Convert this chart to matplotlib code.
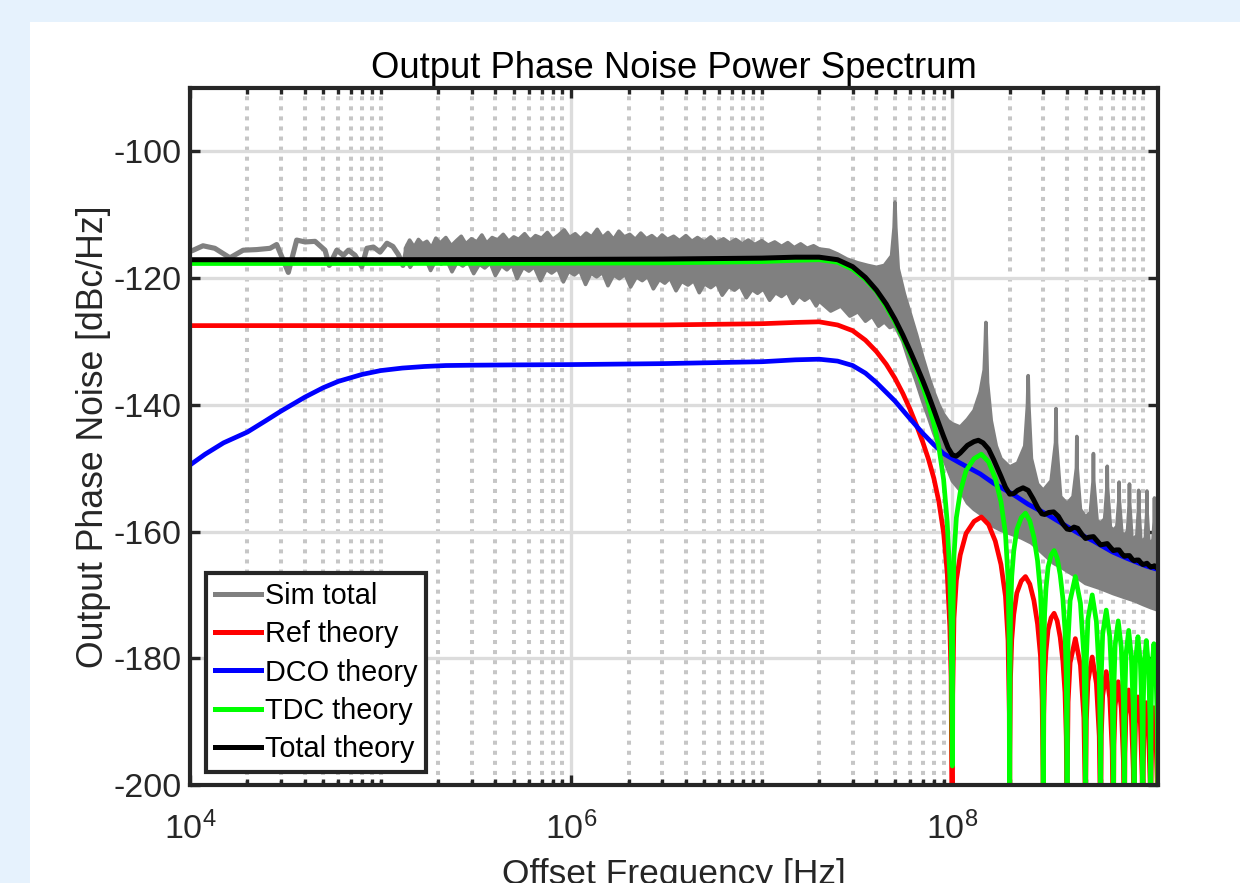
import numpy as np
import matplotlib
matplotlib.use('Agg')
import matplotlib.pyplot as plt
from matplotlib.patches import Rectangle
from matplotlib.ticker import FixedLocator, LogFormatterSciNotation, NullFormatter

plt.rcParams['font.family'] = ['Liberation Sans', 'DejaVu Sans']
plt.rcParams['axes.unicode_minus'] = False

# ---------------- data ----------------
# simulated total, sparse low-frequency part (drawn as a line)
sim_line_f = [1.0e4, 1.04e4, 1.17e4, 1.35e4, 1.62e4, 1.9e4, 2.24e4, 2.63e4, 2.85e4, 3.28e4,
              3.63e4, 4.02e4, 4.53e4, 5.11e4, 5.38e4, 5.89e4, 6.38e4, 6.78e4, 7.35e4, 7.97e4,
              8.47e4, 9.17e4, 9.94e4, 1.08e5, 1.16e5, 1.24e5, 1.31e5, 1.39e5]
sim_line_db = [-115.8, -115.6, -114.9, -115.3, -116.8, -115.6, -115.5, -115.3, -114.7, -119.1,
               -114.0, -114.3, -114.2, -115.6, -118.0, -115.6, -116.4, -115.6, -116.4, -118.2,
               -115.3, -115.1, -115.9, -114.5, -115.0, -116.3, -118.0, -115.0]

# simulated total, dense part: upper envelope
sim_hi_f = [1.35e5, 1.42e5, 1.5e5, 1.58e5, 1.66e5, 1.75e5, 1.85e5, 1.95e5, 2.05e5, 2.2e5,
            2.35e5, 2.5e5, 2.65e5, 2.8e5, 3.0e5, 3.2e5, 3.4e5, 3.6e5, 3.85e5, 4.1e5,
            4.4e5, 4.7e5, 5.0e5, 5.3e5, 5.7e5, 6.1e5, 6.5e5, 7.0e5, 7.5e5, 8.0e5,
            8.6e5, 9.2e5, 9.8e5, 1.05e6, 1.12e6, 1.2e6, 1.28e6, 1.37e6, 1.46e6, 1.56e6,
            1.67e6, 1.78e6, 1.9e6, 2.03e6, 2.17e6, 2.32e6, 2.48e6, 2.65e6, 2.83e6, 3.0e6,
            3.2e6, 3.45e6, 3.7e6, 4.0e6, 4.3e6, 4.6e6, 5.0e6, 5.4e6, 5.8e6, 6.3e6,
            6.8e6, 7.3e6, 7.9e6, 8.5e6, 9.2e6, 1.0e7, 1.08e7, 1.17e7, 1.27e7, 1.37e7,
            1.48e7, 1.6e7, 1.73e7, 1.87e7, 2.0e7, 2.25e7, 2.5e7, 2.8e7, 3.2e7, 3.6e7,
            4e7, 4.4e7, 4.8e7, 4.95e7, 5.0e7, 5.05e7, 5.2e7, 5.6e7, 6e7, 6.5e7,
            7e7, 7.5e7, 8e7, 8.5e7, 9e7, 9.5e7, 1e8, 1.1e8, 1.2e8, 1.3e8,
            1.4e8, 1.47e8, 1.49e8, 1.5e8, 1.51e8, 1.53e8, 1.6e8, 1.7e8, 1.8e8, 2e8,
            2.2e8, 2.4e8, 2.48e8, 2.5e8, 2.52e8, 2.6e8, 2.8e8, 3e8, 3.3e8, 3.48e8,
            3.5e8, 3.52e8, 3.7e8, 4e8, 4.3e8, 4.48e8, 4.5e8, 4.52e8, 4.7e8, 5e8,
            5.3e8, 5.48e8, 5.5e8, 5.52e8, 5.75e8, 6e8, 6.3e8, 6.48e8, 6.5e8, 6.52e8,
            6.75e8, 7e8, 7.3e8, 7.48e8, 7.5e8, 7.52e8, 7.75e8, 8e8, 8.3e8, 8.48e8,
            8.5e8, 8.52e8, 8.75e8, 9e8, 9.3e8, 9.48e8, 9.5e8, 9.52e8, 9.75e8, 1e9,
            1.03e9, 1.048e9, 1.05e9, 1.052e9, 1.075e9, 1.1e9, 1.13e9, 1.148e9, 1.15e9, 1.152e9,
            1.175e9, 1.2e9]
sim_hi_db = [-115.3, -114.0, -115.1, -113.9, -114.6, -114.2, -115.2, -113.7, -114.5, -113.6,
             -114.9, -114.1, -113.4, -114.6, -113.8, -114.3, -113.2, -114.5, -113.6, -114.0,
             -113.1, -114.2, -113.5, -113.9, -113.0, -114.1, -113.3, -113.7, -112.8, -113.9,
             -113.2, -112.4, -113.6, -113.0, -113.8, -112.9, -113.5, -112.3, -113.6, -112.8,
             -113.9, -112.6, -113.5, -113.1, -113.9, -112.9, -113.8, -113.3, -114.0, -113.2,
             -113.9, -113.4, -114.1, -113.3, -114.2, -113.6, -114.3, -113.5, -114.4, -113.8,
             -114.5, -113.9, -114.6, -114.0, -114.7, -114.1, -114.8, -114.3, -115.0, -114.4,
             -115.2, -114.6, -115.3, -114.9, -115.4, -115.6, -116.2, -117.0, -117.6, -118.0,
             -118.3, -118.0, -116.5, -112.0, -108.0, -112.0, -118.5, -122.5, -125.5, -129.0,
             -132.5, -135.5, -138.0, -140.0, -141.5, -142.5, -143.0, -143.5, -142.3, -140.9,
             -138.0, -134.5, -130.0, -127.0, -130.0, -136.5, -142.5, -146.5, -148.5, -149.8,
             -149.2, -146.5, -140.0, -135.4, -140.0, -148.5, -152.5, -153.5, -152.0, -146.0,
             -140.6, -146.0, -154.5, -155.6, -154.5, -150.0, -145.0, -150.0, -156.5, -157.7,
             -157.0, -152.0, -147.7, -152.0, -158.3, -158.7, -158.0, -153.0, -149.7, -153.0,
             -159.3, -159.8, -159.2, -155.0, -152.2, -155.0, -160.2, -160.6, -160.0, -155.5,
             -152.5, -155.5, -160.9, -161.1, -160.6, -156.5, -153.5, -156.5, -161.3, -161.5,
             -161.0, -157.0, -153.6, -157.0, -161.6, -161.8, -161.3, -158.0, -154.7, -158.0,
             -161.9, -162.0]

# simulated total, dense part: lower envelope
sim_lo_f = [1.35e5, 1.43e5, 1.52e5, 1.62e5, 1.72e5, 1.83e5, 1.95e5, 2.08e5, 2.22e5, 2.37e5,
            2.52e5, 2.7e5, 2.88e5, 3.08e5, 3.3e5, 3.52e5, 3.76e5, 4.0e5, 4.3e5, 4.6e5,
            4.9e5, 5.2e5, 5.6e5, 6.0e5, 6.4e5, 6.9e5, 7.4e5, 7.9e5, 8.5e5, 9.1e5,
            9.7e5, 1.04e6, 1.11e6, 1.19e6, 1.27e6, 1.36e6, 1.46e6, 1.56e6, 1.67e6, 1.79e6,
            1.92e6, 2.05e6, 2.2e6, 2.36e6, 2.52e6, 2.7e6, 2.9e6, 3.1e6, 3.3e6, 3.55e6,
            3.8e6, 4.1e6, 4.4e6, 4.7e6, 5.0e6, 5.4e6, 5.8e6, 6.2e6, 6.7e6, 7.2e6,
            7.7e6, 8.3e6, 8.9e6, 9.5e6, 1.02e7, 1.1e7, 1.18e7, 1.27e7, 1.36e7, 1.46e7,
            1.57e7, 1.68e7, 1.8e7, 1.93e7, 2.0e7, 2.3e7, 2.6e7, 2.9e7, 3.2e7, 3.5e7,
            3.8e7, 4.1e7, 4.4e7, 4.7e7, 5e7, 5.5e7, 6e7, 6.5e7, 7e7, 7.5e7,
            8e7, 8.5e7, 9e7, 1e8, 1.1e8, 1.2e8, 1.3e8, 1.45e8, 1.6e8, 1.8e8,
            2e8, 2.3e8, 2.6e8, 3e8, 3.4e8, 3.8e8, 4.3e8, 5e8, 6e8, 7e8,
            8e8, 9e8, 1e9, 1.1e9, 1.2e9]
sim_lo_db = [-116.8, -118.3, -117.0, -117.6, -116.9, -118.8, -117.2, -117.8, -117.1, -119.0,
             -117.5, -118.1, -117.4, -119.3, -117.8, -118.4, -117.6, -119.6, -118.0, -118.7,
             -117.9, -120.1, -118.3, -118.9, -118.2, -120.4, -118.6, -119.2, -118.5, -120.6,
             -118.9, -119.5, -118.8, -121.0, -119.2, -119.8, -119.1, -121.2, -119.5, -120.1,
             -119.4, -121.4, -119.8, -120.4, -119.7, -121.7, -120.2, -120.8, -120.0, -122.0,
             -120.5, -121.1, -120.4, -122.3, -120.9, -121.5, -120.8, -122.7, -121.3, -121.9,
             -121.2, -123.1, -121.8, -122.4, -121.7, -123.5, -122.3, -122.9, -122.2, -124.0,
             -122.8, -123.5, -122.9, -124.4, -123.6, -125.2, -124.4, -126.0, -125.3, -126.8,
             -126.0, -127.6, -126.9, -127.8, -127.5, -130.0, -133.5, -136.5, -139.5, -142.0,
             -144.5, -146.5, -148.5, -152.0, -153.5, -155.5, -156.5, -157.5, -159.0, -159.8,
             -160.3, -161.0, -161.8, -163.5, -165.0, -165.8, -166.8, -168.2, -169.0, -169.8,
             -170.4, -170.9, -171.5, -172.0, -172.4]

# theory curves below the first reference harmonic (shared frequency grid)
low_f = [1e4, 1e5, 1e6, 3e6, 1e7, 1.5e7, 2e7, 2.5e7, 3e7, 3.5e7,
         4e7, 4.5e7, 5e7, 5.5e7, 6e7, 6.5e7, 7e7, 7.5e7, 8e7, 8.5e7,
         9e7, 9.4e7, 9.7e7, 9.85e7]
ref_low_db = [-127.5, -127.5, -127.45, -127.4, -127.2, -127.0, -126.9, -127.4, -128.3, -129.8,
              -131.6, -133.6, -135.8, -138.2, -140.7, -143.3, -145.9, -148.6, -151.6, -155.3,
              -160.2, -166.5, -175.0, -183.0]
tdc_low_db = [-117.7, -117.7, -117.65, -117.6, -117.4, -117.2, -117.1, -117.5, -118.6, -120.2,
              -122.1, -124.5, -126.9, -129.4, -131.9, -134.5, -137.1, -139.9, -143.0, -146.7,
              -151.8, -158.5, -167.0, -175.0]

# theory curves above 100 MHz: lobes between the reference harmonics
lobe_f = [1.0e8, 1.005e8, 1.02e8, 1.05e8, 1.1e8, 1.18e8, 1.3e8, 1.42e8, 1.55e8, 1.68e8, 1.8e8, 1.9e8, 1.96e8, 1.99e8,
          2.0e8, 2.005e8, 2.02e8, 2.05e8, 2.1e8, 2.18e8, 2.3e8, 2.42e8, 2.55e8, 2.68e8, 2.8e8, 2.9e8, 2.96e8, 2.99e8,
          3.0e8, 3.005e8, 3.02e8, 3.05e8, 3.1e8, 3.18e8, 3.3e8, 3.42e8, 3.55e8, 3.68e8, 3.8e8, 3.9e8, 3.96e8, 3.99e8,
          4.0e8, 4.01e8, 4.05e8, 4.15e8, 4.42e8, 4.7e8, 4.9e8, 4.98e8,
          5.0e8, 5.01e8, 5.05e8, 5.15e8, 5.42e8, 5.7e8, 5.9e8, 5.98e8,
          6.0e8, 6.01e8, 6.05e8, 6.15e8, 6.42e8, 6.7e8, 6.9e8, 6.98e8,
          7.0e8, 7.01e8, 7.05e8, 7.15e8, 7.42e8, 7.7e8, 7.9e8, 7.98e8,
          8.0e8, 8.01e8, 8.05e8, 8.15e8, 8.42e8, 8.7e8, 8.9e8, 8.98e8,
          9.0e8, 9.01e8, 9.05e8, 9.15e8, 9.42e8, 9.7e8, 9.9e8, 9.98e8,
          1.0e9, 1.001e9, 1.005e9, 1.015e9, 1.042e9, 1.07e9, 1.09e9, 1.098e9,
          1.1e9, 1.101e9, 1.105e9, 1.115e9, 1.142e9, 1.17e9, 1.19e9, 1.198e9,
          1.2e9]
ref_lobe_db = [-215, -185.7, -173.7, -167.7, -163.7, -160.3, -158.4, -157.7, -158.9, -161.5, -165.2, -170.2, -177.2, -188.7,
               -215, -195.1, -183.1, -177.1, -173.1, -169.7, -167.8, -167.1, -168.3, -170.9, -174.6, -179.6, -186.6, -198.1,
               -215, -200.9, -188.9, -182.9, -178.9, -175.5, -173.6, -172.9, -174.1, -176.7, -180.4, -185.4, -192.4, -203.9,
               -215, -198.9, -186.9, -180.7, -176.9, -181.1, -189.4, -201.9,
               -215, -201.8, -189.8, -183.6, -179.8, -184.0, -192.3, -204.8,
               -215, -204.1, -192.1, -185.9, -182.1, -186.3, -194.6, -207.1,
               -215, -205.7, -193.7, -187.5, -183.7, -187.9, -196.2, -208.7,
               -215, -207.0, -195.0, -188.8, -185.0, -189.2, -197.5, -210.0,
               -215, -208.1, -196.1, -189.9, -186.1, -190.3, -198.6, -211.1,
               -215, -209.0, -197.0, -190.8, -187.0, -191.2, -199.5, -212.0,
               -215, -209.8, -197.8, -191.6, -187.8, -192.0, -200.3, -212.8,
               -215]
tdc_lobe_db = [-197, -175.8, -163.8, -157.8, -153.8, -150.4, -148.5, -147.8, -149.0, -151.6, -155.3, -160.3, -167.3, -178.8,
               -215, -185.1, -173.1, -167.1, -163.1, -159.7, -157.8, -157.1, -158.3, -160.9, -164.6, -169.6, -176.6, -188.1,
               -215, -191.0, -179.0, -173.0, -169.0, -165.6, -163.7, -163.0, -164.2, -166.8, -170.5, -175.5, -182.5, -194.0,
               -215, -189.1, -177.1, -170.9, -167.1, -171.3, -179.6, -192.1,
               -215, -192.0, -180.0, -173.8, -170.0, -174.2, -182.5, -195.0,
               -215, -194.4, -182.4, -176.2, -172.4, -176.6, -184.9, -197.4,
               -215, -196.1, -184.1, -177.9, -174.1, -178.3, -186.6, -199.1,
               -215, -197.6, -185.6, -179.4, -175.6, -179.8, -188.1, -200.6,
               -215, -198.6, -186.6, -180.4, -176.6, -180.8, -189.1, -201.6,
               -215, -199.2, -187.2, -181.0, -177.2, -181.4, -189.7, -202.2,
               -215, -199.7, -187.7, -181.5, -177.7, -181.9, -190.2, -202.7,
               -215]

# DCO theory
dco_f = [1e4, 1.2e4, 1.5e4, 2e4, 2.5e4, 3e4, 4e4, 5e4, 6e4, 8e4,
         1e5, 1.3e5, 1.7e5, 2.2e5, 3e5, 5e5, 1e6, 3e6, 1e7, 1.5e7,
         2e7, 2.5e7, 3e7, 3.5e7, 4e7, 5e7, 6e7, 7e7, 8e7, 9e7,
         1e8, 1.1e8, 1.4e8, 1.65e8, 2.1e8, 2.5e8, 3.1e8, 3.7e8, 4.6e8, 5.5e8,
         6.9e8, 8.2e8, 1.03e9, 1.2e9]
dco_db = [-149.5, -147.8, -146.0, -144.3, -142.5, -141.0, -138.8, -137.3, -136.3, -135.2,
          -134.6, -134.2, -133.95, -133.8, -133.75, -133.7, -133.65, -133.5, -133.2, -132.9,
          -132.8, -133.1, -133.8, -135.0, -136.5, -139.4, -142.2, -144.5, -146.3, -147.7,
          -148.5, -149.2, -150.9, -152.4, -154.2, -155.7, -157.2, -158.6, -160.3, -161.5,
          -163.2, -164.2, -165.4, -166.0]

# total theory
total_f = [1e4, 1e5, 1e6, 3e6, 1e7, 1.5e7, 2e7, 2.5e7, 3e7, 3.5e7,
           4e7, 4.5e7, 5e7, 5.5e7, 6e7, 6.5e7, 7e7, 7.5e7, 8e7, 8.5e7,
           9e7, 9.5e7, 1.0e8, 1.05e8, 1.1e8, 1.2e8, 1.3e8, 1.37e8, 1.45e8, 1.55e8,
           1.65e8, 1.8e8, 1.9e8, 2.0e8, 2.1e8, 2.2e8, 2.35e8, 2.5e8, 2.65e8, 2.8e8,
           2.95e8, 3.05e8, 3.2e8, 3.4e8, 3.6e8, 3.8e8, 4.0e8, 4.15e8, 4.35e8, 4.55e8,
           4.8e8, 5.0e8, 5.2e8, 5.5e8, 5.8e8, 6.0e8, 6.25e8, 6.5e8, 6.8e8, 7.0e8,
           7.25e8, 7.5e8, 7.8e8, 8.0e8, 8.25e8, 8.5e8, 8.8e8, 9.0e8, 9.25e8, 9.5e8,
           9.8e8, 1.0e9, 1.03e9, 1.05e9, 1.08e9, 1.1e9, 1.13e9, 1.15e9, 1.18e9, 1.2e9]
total_db = [-117.1, -117.1, -117.05, -117.0, -116.85, -116.7, -116.7, -117.1, -118.2, -119.9,
            -121.9, -124.1, -126.5, -129.0, -131.5, -133.9, -136.2, -138.5, -140.8, -143.0,
            -145.0, -146.8, -147.9, -148.1, -147.6, -146.4, -145.8, -145.6, -146.0, -147.0,
            -148.7, -151.3, -153.0, -154.1, -154.0, -153.5, -153.1, -153.5, -154.8, -156.2,
            -157.2, -157.3, -157.0, -156.9, -157.6, -158.8, -159.6, -159.7, -159.3, -159.5,
            -160.5, -161.1, -160.9, -160.8, -161.6, -162.1, -162.0, -161.9, -162.6, -163.0,
            -162.9, -162.9, -163.6, -163.9, -163.8, -163.8, -164.4, -164.6, -164.5, -164.5,
            -165.0, -165.2, -165.1, -165.0, -165.4, -165.6, -165.5, -165.4, -165.7, -165.8]

x_ticks = [1e4, 1e6, 1e8]
y_ticks = [-200, -180, -160, -140, -120, -100]

# ---------------- figure ----------------
fig = plt.figure(figsize=(12.4, 8.83), dpi=100, facecolor='#e6f2fd')
panel = Rectangle((30 / 1240, 0), 1 - 30 / 1240, 1 - 22 / 883,
                  transform=fig.transFigure, facecolor='white',
                  edgecolor='none', zorder=-10)
fig.add_artist(panel)

ax = fig.add_axes([190 / 1240, 1 - 785 / 883, 968 / 1240, 697 / 883])
ax.set_zorder(1)
ax.set_xscale('log')

gray = '#808080'
ax.fill(np.concatenate([sim_hi_f, sim_lo_f[::-1]]),
        np.concatenate([sim_hi_db, sim_lo_db[::-1]]),
        facecolor=gray, edgecolor=gray, linewidth=2.6, joinstyle='round', zorder=2)
ax.plot(sim_line_f, sim_line_db, color=gray, lw=3.7, solid_joinstyle='round',
        label='Sim total', zorder=2)

ax.plot(low_f + lobe_f, ref_low_db + ref_lobe_db, color='#ff0000', lw=3.4, label='Ref theory', zorder=3)
ax.plot(dco_f, dco_db, color='#0000ff', lw=3.4, label='DCO theory', zorder=3)
ax.plot(low_f + lobe_f, tdc_low_db + tdc_lobe_db, color='#00ff00', lw=3.4, label='TDC theory', zorder=3)
ax.plot(total_f, total_db, color='#000000', lw=3.6, label='Total theory', zorder=3)

ax.set_xlim(1e4, 1.2e9)
ax.set_ylim(-200, -90)

ax.xaxis.set_major_locator(FixedLocator(x_ticks))
ax.xaxis.set_major_formatter(LogFormatterSciNotation())
minor = [k * 10.0 ** d for d in range(4, 9) for k in range(1, 10)
         if k * 10.0 ** d not in x_ticks] + [1e9]
ax.xaxis.set_minor_locator(FixedLocator(minor))
ax.xaxis.set_minor_formatter(NullFormatter())
ax.set_yticks(y_ticks)

ax.grid(True, which='major', color='#dcdcdc', lw=2.4, zorder=0)
ax.grid(True, which='minor', axis='x', color='#c6c6c6', lw=2.9,
        linestyle=(0, (1, 1.5)), zorder=0)
ax.set_axisbelow(True)

for sp in ax.spines.values():
    sp.set_linewidth(3.0)
    sp.set_color('#262626')
    sp.set_zorder(5)

ax.tick_params(which='both', direction='in', top=True, right=True,
               color='#262626', width=2.4, labelcolor='#262626')
ax.tick_params(which='major', length=7.5, labelsize=24.5)
ax.tick_params(which='minor', length=4)
ax.tick_params(axis='y', pad=6)
ax.tick_params(axis='x', pad=19)

ax.set_title('Output Phase Noise Power Spectrum', fontsize=26.3, color='black', pad=7)
ax.set_xlabel('Offset Frequency [Hz]', fontsize=25.5, color='#262626', labelpad=9)
ax.set_ylabel('Output Phase Noise [dBc/Hz]', fontsize=25.7, color='#262626', labelpad=2)

leg = ax.legend(loc='lower left', bbox_to_anchor=(16 / 968, 13 / 697), borderaxespad=0,
                fontsize=20.8, frameon=True, fancybox=False, framealpha=1,
                edgecolor='#262626', handlelength=1.6, handletextpad=0.15,
                labelspacing=0.36, borderpad=0.3)
leg.get_frame().set_linewidth(3.0)
leg.set_zorder(6)
for line in leg.get_lines():
    line.set_linewidth(3.6)

fig.savefig('out.png', dpi=100, facecolor=fig.get_facecolor())
